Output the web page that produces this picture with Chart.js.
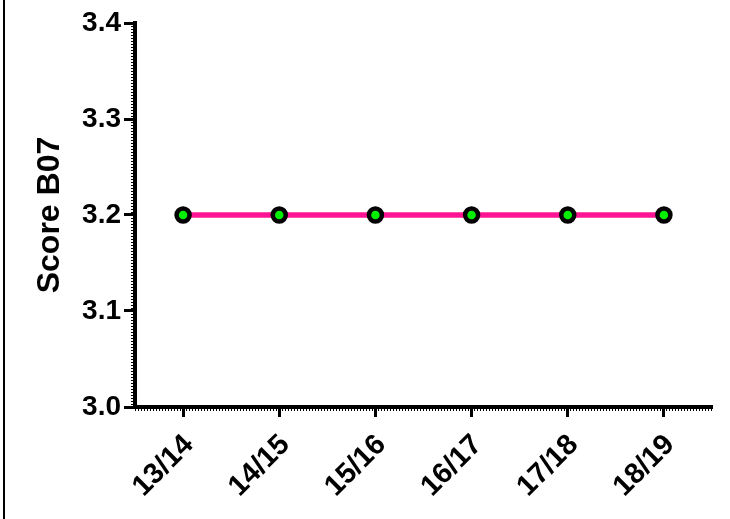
<!DOCTYPE html>
<html>
<head>
<meta charset="utf-8">
<script src="https://cdn.jsdelivr.net/npm/chart.js@4/dist/chart.umd.min.js"></script>
<style>
  html, body { margin: 0; padding: 0; background: #fff; }
  #wrap { width: 730px; height: 519px; }
</style>
</head>
<body>
<div id="wrap"><canvas id="chart" width="730" height="519"></canvas></div>
<script>
const seasons = ['13/14', '14/15', '15/16', '16/17', '17/18', '18/19'];
const scores = [3.2, 3.2, 3.2, 3.2, 3.2, 3.2];
const yTicks = [3.0, 3.1, 3.2, 3.3, 3.4];

const fontFamily = '"Liberation Sans", Arial, Helvetica, sans-serif';

// small minor ticks along both axes plus the frame line on the left
const decorPlugin = {
    id: 'decor',
    afterDraw: (chart) => {
        const ctx = chart.ctx;
        const area = chart.chartArea;
        const y = chart.scales.y;
        ctx.save();
        ctx.fillStyle = '#000';
        ctx.fillRect(3, 0, 2, chart.height);
        const yStep = (y.getPixelForValue(yTicks[0]) - y.getPixelForValue(yTicks[1])) / 32;
        for (let p = area.bottom; p >= area.top; p -= yStep) {
            ctx.fillRect(area.left - 4, Math.round(p), 2, 1);
        }
        for (let p = area.left; p <= area.right; p += 3) {
            ctx.fillRect(Math.round(p), area.bottom + 2, 1, 2);
        }
        ctx.restore();
    }
};

const ctx = document.getElementById('chart').getContext('2d');
const chart = new Chart(ctx, {
    type: 'line',
    data: {
        labels: seasons,
        datasets: [{
            data: scores,
            borderColor: '#FF1493',
            borderWidth: 5.5,
            pointRadius: 6.5,
            pointBorderWidth: 4.5,
            pointBackgroundColor: '#00F000',
            pointBorderColor: '#000',
            tension: 0
        }]
    },
    options: {
        responsive: false,
        animation: false,
        layout: { padding: { top: 23, right: 18, left: 0, bottom: 0 } },
        plugins: {
            legend: { display: false },
            tooltip: { enabled: false }
        },
        scales: {
            x: {
                offset: true,
                grid: {
                    drawOnChartArea: false,
                    offset: false,
                    tickLength: 10,
                    tickWidth: 3,
                    tickColor: '#000'
                },
                border: { display: true, width: 4, color: '#000' },
                ticks: {
                    color: '#000',
                    maxRotation: 45,
                    minRotation: 45,
                    padding: 11,
                    labelOffset: 6,
                    font: { family: fontFamily, size: 29, weight: 'bold' }
                },
                afterFit: (scale) => { scale.height = 112; }
            },
            y: {
                min: 3.0,
                max: 3.4,
                afterBuildTicks: (scale) => { scale.ticks = yTicks.map(v => ({ value: v })); },
                grid: {
                    drawOnChartArea: false,
                    tickLength: 11,
                    tickWidth: 3,
                    tickColor: '#000'
                },
                border: { display: true, width: 4, color: '#000' },
                ticks: {
                    color: '#000',
                    padding: 3,
                    callback: (v) => Number(v).toFixed(1),
                    font: { family: fontFamily, size: 28, weight: 'bold' }
                },
                title: {
                    display: true,
                    text: 'Score B07',
                    color: '#000',
                    padding: { top: 31, bottom: 0 },
                    font: { family: fontFamily, size: 32, weight: 'bold' }
                },
                afterFit: (scale) => { scale.width = 135; }
            }
        }
    },
    plugins: [decorPlugin]
});
</script>
</body>
</html>
